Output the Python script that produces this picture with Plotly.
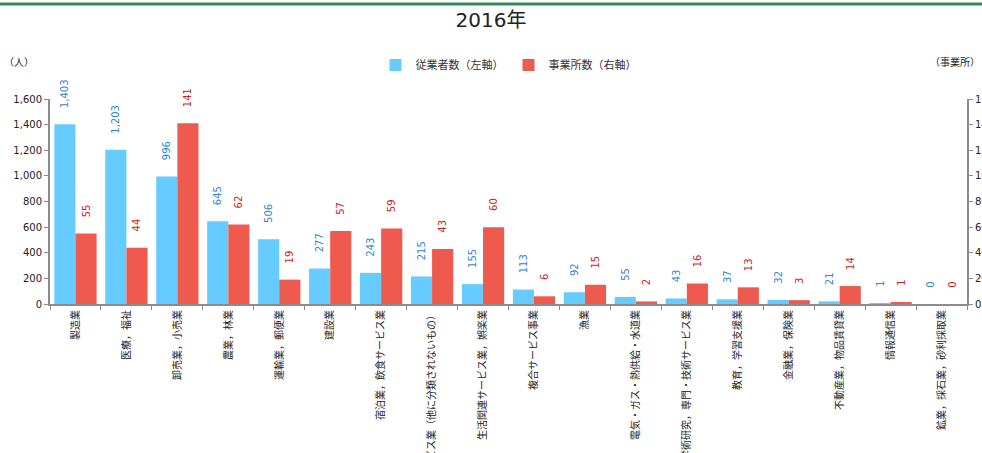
import plotly.graph_objects as go

categories = [
    "製造業", "医療，福祉", "卸売業，小売業", "農業，林業", "運輸業，郵便業", "建設業",
    "宿泊業，飲食サービス業", "サービス業（他に分類されないもの）", "生活関連サービス業，娯楽業",
    "複合サービス事業", "漁業", "電気・ガス・熱供給・水道業", "学術研究，専門・技術サービス業",
    "教育，学習支援業", "金融業，保険業", "不動産業，物品賃貸業", "情報通信業", "鉱業，採石業，砂利採取業",
]
employees = [1403, 1203, 996, 645, 506, 277, 243, 215, 155, 113, 92, 55, 43, 37, 32, 21, 1, 0]
establishments = [55, 44, 141, 62, 19, 57, 59, 43, 60, 6, 15, 2, 16, 13, 3, 14, 1, 0]

left_ticks = list(range(0, 1601, 200))
right_ticks = list(range(0, 161, 20))

FONT = "DejaVu Sans, Noto Sans CJK JP, sans-serif"
AXIS_COLOR = "#8c8c8c"
GAP = "\u2003\u00a0"  # leading space so labels float above bars like the reference

fig = go.Figure()
fig.add_trace(go.Bar(
    x=categories, y=employees, name="従業者数（左軸）",
    marker=dict(color="#66ccff", line=dict(width=0)),
    text=employees, texttemplate=GAP + "%{y:,}", textposition="outside", textangle=-90,
    textfont=dict(color="#2f86d2", size=10, family=FONT),
    cliponaxis=False, constraintext="none", yaxis="y",
    offsetgroup="a",
))
fig.add_trace(go.Bar(
    x=categories, y=establishments, name="事業所数（右軸）",
    marker=dict(color="#ee5a4e", line=dict(width=0)),
    text=establishments, texttemplate=GAP + "%{y:,}", textposition="outside", textangle=-90,
    textfont=dict(color="#d01c1c", size=10, family=FONT),
    cliponaxis=False, constraintext="none", yaxis="y2",
    offsetgroup="b",
))

fig.update_layout(
    width=982, height=453,
    margin=dict(l=50, r=15, t=99, b=149, autoexpand=False),
    paper_bgcolor="white", plot_bgcolor="white",
    font=dict(family=FONT, size=10, color="#222222"),
    barmode="group", bargap=0.17, bargroupgap=0,
    title=dict(text="2016年", x=0.5, xanchor="center", y=1 - 20 / 453, yanchor="middle",
               font=dict(size=20, color="#222222", family=FONT)),
    showlegend=True,
    legend=dict(orientation="h", x=0.5, xanchor="center", y=(304 - 65) / 205, yanchor="middle",
                font=dict(size=11, color="#333333"), itemwidth=30, bgcolor="rgba(0,0,0,0)",
                traceorder="normal"),
    xaxis=dict(
        type="category", tickangle=-90, tickson="boundaries", ticks="outside", ticklen=4,
        tickcolor=AXIS_COLOR, showline=True, linecolor=AXIS_COLOR, linewidth=2,
        showgrid=False, automargin=False, tickfont=dict(size=10, color="#222222"),
    ),
    yaxis=dict(
        range=[0, 1600], tickvals=left_ticks, tickformat=",", ticks="outside", ticklen=4,
        tickcolor=AXIS_COLOR, showline=True, linecolor=AXIS_COLOR, linewidth=2,
        showgrid=False, zeroline=False, automargin=False, tickfont=dict(size=10),
    ),
    yaxis2=dict(
        range=[0, 160], tickvals=right_ticks, overlaying="y", side="right", ticks="outside",
        ticklen=4, tickcolor=AXIS_COLOR, showline=True, linecolor=AXIS_COLOR, linewidth=2,
        showgrid=False, zeroline=False, automargin=False, tickfont=dict(size=10),
    ),
    shapes=[dict(type="line", xref="paper", yref="paper",
                 x0=-50 / 917, x1=932 / 917, y0=(304 - 4) / 205, y1=(304 - 4) / 205,
                 line=dict(color="#2e8b57", width=3))],
    annotations=[
        dict(text="（人）", xref="paper", yref="paper", x=-48 / 917, xanchor="left",
             y=(304 - 62) / 205, yanchor="middle", showarrow=False, font=dict(size=10)),
        dict(text="（事業所）", xref="paper", yref="paper", x=932 / 917, xanchor="right",
             y=(304 - 62) / 205, yanchor="middle", showarrow=False, font=dict(size=10)),
    ],
)

fig.write_html(
    "out.html",
    config={"displayModeBar": False},
    post_script="document.body.style.margin='0';document.body.style.overflow='hidden';",
)
